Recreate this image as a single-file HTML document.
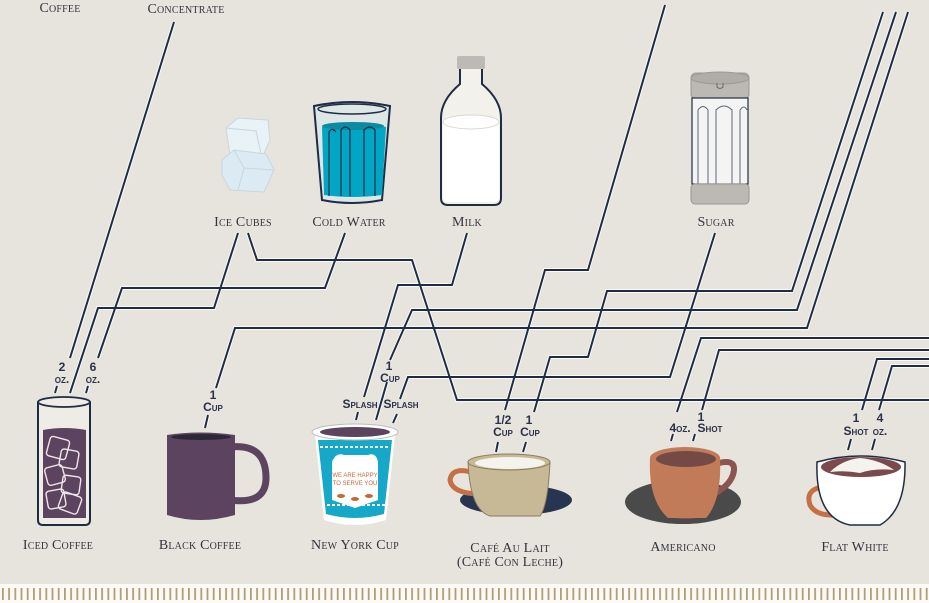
<!DOCTYPE html>
<html><head><meta charset="utf-8"><style>
html,body{margin:0;padding:0;background:#e7e4dd;}
svg{display:block}
.lb{font-family:"Liberation Serif",serif;font-variant:small-caps;font-size:14px;fill:#33333f;text-anchor:middle;letter-spacing:0.2px}
.am{font-family:"Liberation Sans Narrow","Liberation Sans",sans-serif;font-variant:small-caps;font-size:12px;fill:#2a3148;text-anchor:middle;font-weight:bold}
</style></head><body>
<svg width="929" height="603" viewBox="0 0 929 603" xmlns="http://www.w3.org/2000/svg">
<defs>
<g id="paths">
<path d="M174,22 L70,358"/>
<path d="M238,233 L214,308 L98,308 L70,393"/>
<path d="M345,233 L325,288 L122,288 L98,358"/>
<path d="M248,233 L257,260 L412,260 L457,400 L929,400"/>
<path d="M467,233 L452,285 L398,285 L364,397"/>
<path d="M896,12 L797,310 L412,310 L390,360"/>
<path d="M883,12 L792,291 L607,291 L588,357 L550,357 L534,412"/>
<path d="M665,5 L588,270 L545,270 L505,410"/>
<path d="M908,12 L807,328 L235,328 L216,388"/>
<path d="M715,233 L670,377 L408,377 L400,399"/>
<path d="M929,338 L701,338 L677,412"/>
<path d="M929,350 L719,350 L702,410"/>
<path d="M929,359 L877,359 L862,410"/>
<path d="M929,366 L892,366 L879,410"/>
<path d="M57,386 L55,393"/><path d="M88,386 L86,393"/>
<path d="M208,415 L205,428"/>
<path d="M358,412 L356,420"/><path d="M397,414 L393,423"/>
<path d="M387,382 L376,420"/>
<path d="M498,442 L496,452"/><path d="M526,442 L523,452"/>
<path d="M673,434 L671,441"/><path d="M695,434 L693,441"/>
<path d="M851,439 L848,450"/><path d="M875,439 L872,450"/>
</g>
<pattern id="tk" x="2" y="0" width="6.2" height="20" patternUnits="userSpaceOnUse"><rect x="0" y="0" width="1.8" height="20" fill="#b29d73"/></pattern>
</defs>
<rect width="929" height="603" fill="#e7e4dd"/>
<text class="lb" x="60" y="12">Coffee</text>
<text class="lb" x="186" y="13">Concentrate</text>

<use href="#paths" fill="none" stroke="#fbfaf7" stroke-width="4"/>
<use href="#paths" fill="none" stroke="#1f2c45" stroke-width="2"/>

<text class="lb" x="243" y="226">Ice Cubes</text>
<text class="lb" x="349" y="226">Cold Water</text>
<text class="lb" x="467" y="226">Milk</text>
<text class="lb" x="716" y="226">Sugar</text>

<g stroke="#c9d6dd" stroke-width="1">
<path d="M226,128 L238,118 L268,120 L270,140 L262,158 L230,156 Z" fill="#e8f2f7"/>
<path d="M226,128 L256,131 L262,158" fill="none"/>
<path d="M222,160 L234,150 L266,154 L274,170 L264,192 L230,190 L222,175 Z" fill="#dcebf3"/>
<path d="M234,150 L244,168 L274,170 M244,168 L238,190" fill="none"/>
</g>

<path d="M314,106 Q352,98 390,106 L382,200 Q352,206 322,200 Z" fill="#dfe6e6" stroke="#1f2c45" stroke-width="2"/>
<ellipse cx="352" cy="109" rx="34" ry="5" fill="none" stroke="#1f2c45" stroke-width="1.5"/>
<path d="M322,127 Q352,120 386,127 L382,195 Q352,199 324,195 Z" fill="#00a6c3"/>
<ellipse cx="353" cy="126" rx="31" ry="4" fill="#0a8aa3"/>
<path d="M341,196 L341,130 Q345,124 350,130 L350,196 M364,196 L364,130 Q370,124 375,130 L375,196 M329,196 L329,132 Q332,127 336,132" fill="none" stroke="#1f2c45" stroke-width="1.2"/>

<rect x="457" y="56" width="28" height="13" rx="2" fill="#bdb9b4"/>
<path d="M460,69 L460,84 Q441,100 441,118 L441,198 Q441,205 448,205 L494,205 Q501,205 501,198 L501,118 Q501,100 482,84 L482,69" fill="#f3f1ec" stroke="#1f2c45" stroke-width="2"/>
<path d="M443,122 Q471,110 499,122 L499,198 Q499,202 494,202 L448,202 Q443,202 443,198 Z" fill="#ffffff"/>
<ellipse cx="471" cy="122" rx="28" ry="7" fill="#fff" stroke="#ddd8cc" stroke-width="1"/>

<rect x="691" y="73" width="58" height="26" rx="5" fill="#bcb8b2" stroke="#999" stroke-width="1"/>
<ellipse cx="720" cy="78" rx="29" ry="6" fill="#b0aca6" stroke="#999"/>
<path d="M717,83 L717,87 Q720,90 723,87 L723,83" fill="none" stroke="#666"/>
<rect x="692" y="98" width="56" height="86" fill="#f4f4f2" stroke="#1f2c45" stroke-width="1.2"/>
<path d="M698,184 L698,110 Q703,103 708,110 L708,184 M716,184 L716,110 Q724,102 732,110 L732,184 M740,184 L740,110 Q744,104 747,110" fill="none" stroke="#5b6680" stroke-width="1"/>
<rect x="691" y="184" width="58" height="20" rx="4" fill="#bcb8b2" stroke="#999"/>

<path d="M38,402 L38,520 Q38,525 43,525 L85,525 Q90,525 90,520 L90,402" fill="#efece5" stroke="#1f2c45" stroke-width="2"/>
<ellipse cx="64" cy="402" rx="26" ry="5" fill="#efece5" stroke="#1f2c45" stroke-width="1.8"/>
<path d="M43,430 Q64,426 86,430 L86,518 L43,518 Z" fill="#5c4461"/>
<g fill="none" stroke="#f0e6e6" stroke-width="1.4">
<rect x="48" y="438" width="20" height="20" rx="3" transform="rotate(15 58 448)"/>
<rect x="60" y="450" width="18" height="18" rx="3" transform="rotate(10 69 459)"/>
<rect x="46" y="466" width="18" height="18" rx="3" transform="rotate(-15 55 475)"/>
<rect x="62" y="476" width="18" height="18" rx="3" transform="rotate(8 71 485)"/>
<rect x="47" y="490" width="18" height="18" rx="3" transform="rotate(-10 56 499)"/>
<rect x="60" y="494" width="20" height="18" rx="3" transform="rotate(20 70 503)"/>
</g>

<path d="M230,447 Q266,443 266,478 Q266,505 230,500" fill="none" stroke="#5c4461" stroke-width="7"/>
<path d="M167,435 Q200,430 235,435 L235,515 Q200,525 167,515 Z" fill="#5c4461"/>
<ellipse cx="201" cy="437" rx="30" ry="3" fill="#2d2838"/>

<path d="M315,435 L324,520 Q355,530 386,520 L395,435 Z" fill="#fff"/>
<path d="M318,440 L326,514 Q355,522 384,514 L392,440 Z" fill="#16a8c8"/>
<path d="M332,462 Q336,452 344,455 L368,455 Q376,452 378,462 L378,500 L355,508 L332,500 Z" fill="#fff"/>
<text x="355" y="477" font-family="Liberation Sans,sans-serif" font-size="6" fill="#c06a3c" text-anchor="middle">WE ARE HAPPY</text>
<text x="355" y="485" font-family="Liberation Sans,sans-serif" font-size="6" fill="#c06a3c" text-anchor="middle">TO SERVE YOU</text>
<ellipse cx="341" cy="496" rx="4" ry="2" fill="#c06a3c"/><ellipse cx="355" cy="499" rx="4" ry="2" fill="#c06a3c"/><ellipse cx="369" cy="496" rx="4" ry="2" fill="#c06a3c"/>
<path d="M320,447 L390,447 M322,505 L388,505" stroke="#fff" stroke-width="2" stroke-dasharray="3 2"/>
<ellipse cx="355" cy="432" rx="43" ry="8" fill="#fff" stroke="#bbb"/>
<ellipse cx="355" cy="432" rx="35" ry="5" fill="#5c4461"/>

<ellipse cx="517" cy="503" rx="35" ry="10" fill="#c8b996"/>
<ellipse cx="516" cy="500" rx="56" ry="15" fill="#283550"/>
<path d="M474,473 Q452,466 450,480 Q452,493 478,494" fill="none" stroke="#c56f45" stroke-width="5"/>
<path d="M468,462 Q470,510 490,516 L540,516 Q548,505 550,462 Z" fill="#c8b996" stroke="#8a7d60" stroke-width="1"/>
<ellipse cx="509" cy="462" rx="41" ry="8" fill="#c8b996" stroke="#8a7d60" stroke-width="1"/>
<ellipse cx="510" cy="463" rx="35" ry="6" fill="#f5f3ee"/>

<ellipse cx="683" cy="502" rx="58" ry="22" fill="#4b4a4a"/>
<ellipse cx="686" cy="513" rx="20" ry="6" fill="#8b5550"/>
<path d="M712,465 Q735,457 734,470 Q732,488 704,498" fill="none" stroke="#8b5550" stroke-width="6"/>
<path d="M650,458 Q648,500 668,518 L706,518 Q722,500 720,458 Z" fill="#c27b58"/>
<ellipse cx="685" cy="458" rx="35" ry="11" fill="#c27b58"/>
<ellipse cx="686" cy="459" rx="30" ry="8" fill="#744a47"/>

<path d="M822,487 Q805,490 810,505 Q816,516 835,515" fill="none" stroke="#c56f45" stroke-width="5"/>
<path d="M817,462 Q815,518 850,525 L880,525 Q906,510 905,462 Q860,450 817,462 Z" fill="#fff" stroke="#1f2c45" stroke-width="1.5"/>
<ellipse cx="861" cy="467" rx="40" ry="10" fill="#7a4a4e"/>
<path d="M830,472 Q842,460 860,458 Q880,460 894,470 Q875,468 860,473 Q845,470 830,472 Z" fill="#f5f3ee"/>

<text class="am" x="62" y="371">2</text><text class="am" x="62" y="383">oz.</text>
<text class="am" x="93" y="371">6</text><text class="am" x="93" y="383">oz.</text>
<text class="am" x="213" y="399">1</text><text class="am" x="213" y="411">Cup</text>
<text class="am" x="389" y="370">1</text><text class="am" x="390" y="382">Cup</text>
<text class="am" x="360" y="408">Splash</text><text class="am" x="401" y="408">Splash</text>
<text class="am" x="503" y="424">1/2</text><text class="am" x="503" y="436">Cup</text>
<text class="am" x="529" y="424">1</text><text class="am" x="530" y="436">Cup</text>
<text class="am" x="680" y="432">4oz.</text>
<text class="am" x="701" y="421">1</text><text class="am" x="710" y="432">Shot</text>
<text class="am" x="856" y="422">1</text><text class="am" x="856" y="435">Shot</text>
<text class="am" x="880" y="422">4</text><text class="am" x="880" y="435">oz.</text>

<text class="lb" x="58" y="549">Iced Coffee</text>
<text class="lb" x="200" y="549">Black Coffee</text>
<text class="lb" x="355" y="549">New York Cup</text>
<text class="lb" x="510" y="552">Café Au Lait</text>
<text class="lb" x="510" y="566">(Café Con Leche)</text>
<text class="lb" x="683" y="551">Americano</text>
<text class="lb" x="855" y="551">Flat White</text>

<rect x="0" y="584" width="929" height="19" fill="#fbfaf6"/>
<rect x="0" y="588" width="929" height="12" fill="url(#tk)"/>
</svg>
</body></html>
